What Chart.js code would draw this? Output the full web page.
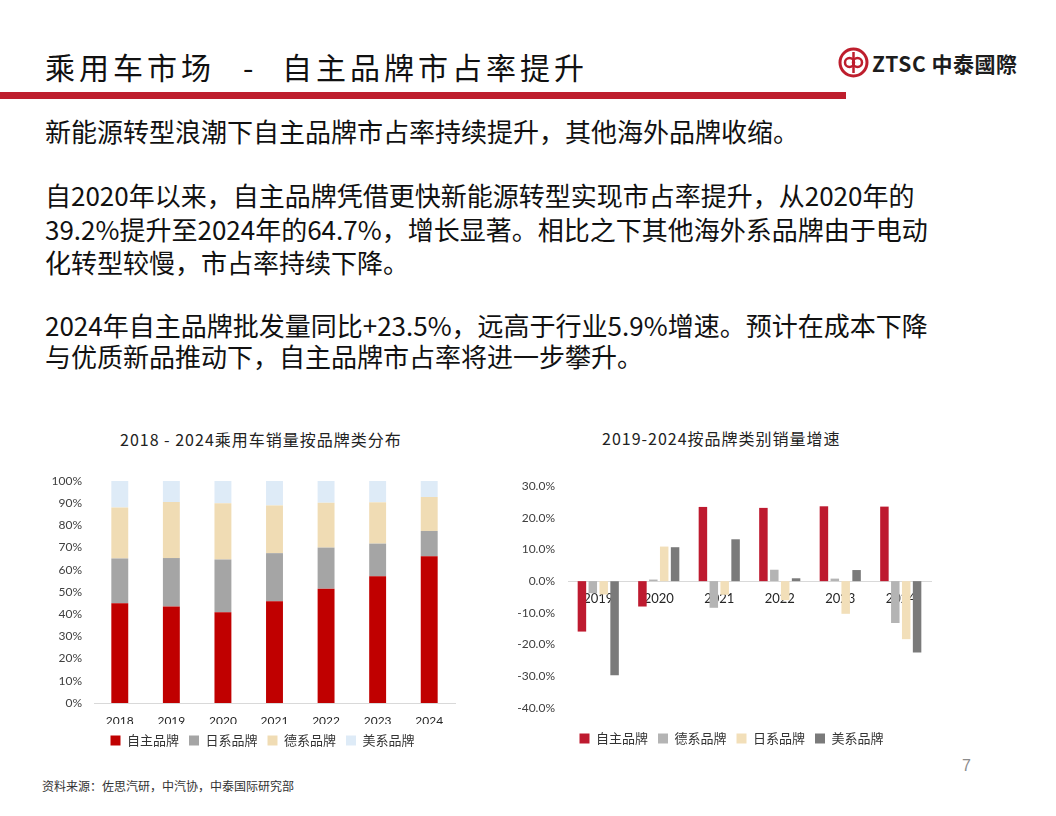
<!DOCTYPE html>
<html lang="zh">
<head>
<meta charset="utf-8">
<script src="https://cdn.jsdelivr.net/npm/chart.js@4.4.1/dist/chart.umd.min.js"></script>
<style>
  html, body { margin: 0; padding: 0; background: #fff; }
  body { width: 1056px; height: 816px; position: relative; overflow: hidden;
         font-family: "Noto Sans CJK SC", "Noto Sans", sans-serif; color: #111; }
  .abs { position: absolute; white-space: nowrap; }
  .title { font-size: 30px; letter-spacing: 4px; top: 46px; line-height: 40px; color: #111; }
  .redbar { position: absolute; left: 0; top: 92px; width: 846px; height: 7px; background: #BE1E2D; }
  .body-line { font-size: 26px; line-height: 34px; left: 45px; color: #111; }
  .chart-title { font-size: 16px; letter-spacing: 1px; line-height: 20px; color: #222; }
  .src { font-size: 12px; left: 42px; top: 777px; color: #333; }
  .pageno { font-size: 16px; left: 962px; top: 757px; color: #8c8c8c; font-family: "Liberation Sans", sans-serif; }
  .logo { left: 838px; top: 47px; display: flex; align-items: center; }
  .logo-text { font-family: "Noto Sans CJK TC", sans-serif; font-weight: 700; font-size: 21px; color: #1d1d1d; margin-left: 3px; letter-spacing: 0.5px; }
  canvas { position: absolute; }
</style>
</head>
<body>
<!-- header -->
<div class="abs title" style="left:45px">乘用车市场</div>
<div class="abs title" style="left:243px">-</div>
<div class="abs title" style="left:282px">自主品牌市占率提升</div>
<div class="abs logo">
  <svg width="31" height="31" viewBox="0 0 31 31">
    <circle cx="15.5" cy="15.5" r="13.5" fill="none" stroke="#BE1E2D" stroke-width="3"/>
    <circle cx="11.5" cy="15.5" r="4.5" fill="none" stroke="#BE1E2D" stroke-width="2.5"/>
    <circle cx="19.5" cy="15.5" r="4.5" fill="none" stroke="#BE1E2D" stroke-width="2.5"/>
    <line x1="15.5" y1="5" x2="15.5" y2="26" stroke="#BE1E2D" stroke-width="2.5"/>
  </svg>
  <span class="logo-text">ZTSC 中泰國際</span>
</div>
<div class="redbar"></div>

<!-- body text -->
<div class="abs body-line" style="top:114px">新能源转型浪潮下自主品牌市占率持续提升，其他海外品牌收缩。</div>
<div class="abs body-line" style="top:178px">自2020年以来，自主品牌凭借更快新能源转型实现市占率提升，从2020年的</div>
<div class="abs body-line" style="top:212px">39.2%提升至2024年的64.7%，增长显著。相比之下其他海外系品牌由于电动</div>
<div class="abs body-line" style="top:245px">化转型较慢，市占率持续下降。</div>
<div class="abs body-line" style="top:308px">2024年自主品牌批发量同比+23.5%，远高于行业5.9%增速。预计在成本下降</div>
<div class="abs body-line" style="top:339px">与优质新品推动下，自主品牌市占率将进一步攀升。</div>

<!-- charts -->
<div class="abs chart-title" style="left:120px;top:429px">2018 - 2024乘用车销量按品牌类分布</div>
<div class="abs chart-title" style="left:602px;top:428px">2019-2024按品牌类别销量增速</div>
<canvas id="shareChart" width="440" height="289" style="left:30px;top:468px;width:440px;height:289px"></canvas>
<canvas id="growthChart" width="460" height="282" style="left:490px;top:473px;width:460px;height:282px"></canvas>

<div class="abs src">资料来源：佐思汽研，中汽协，中泰国际研究部</div>
<div class="abs pageno">7</div>

<script>
// ========== data ==========
const shareYears = ["2018", "2019", "2020", "2021", "2022", "2023", "2024"];
const ownShare = [44.9, 43.5, 40.9, 45.8, 51.5, 57.1, 66.1];
const japanShare = [20.2, 21.8, 23.7, 21.7, 18.5, 14.7, 11.4];
const germanShare = [23.0, 25.2, 25.4, 21.5, 20.2, 18.6, 15.3];
const usShare = [11.9, 9.5, 10.0, 11.0, 9.8, 9.6, 7.2];

const growthYears = ["2019", "2020", "2021", "2022", "2023", "2024"];
const ownGrowth = [-15.9, -8.0, 23.4, 23.1, 23.6, 23.5];
const germanGrowth = [-3.8, 0.5, -8.4, 3.6, 0.8, -13.2];
const japanGrowth = [-4.2, 10.9, -4.3, -6.0, -10.3, -18.3];
const usGrowth = [-29.7, 10.7, 13.2, 0.9, 3.5, -22.5];

// ========== shared styles ==========
const FONT = "Lato, 'Noto Sans CJK SC', sans-serif";
const tickFont = { family: FONT, size: 12 };
const legendOpts = {
  position: "bottom",
  labels: {
    boxWidth: 10,
    boxHeight: 10,
    padding: 10,
    color: "#333",
    font: { family: "'Noto Sans CJK SC', sans-serif", size: 13 },
  },
};

// legend sits a bit right of the canvas centre in the original
const shiftLegend = (dx) => ({
  id: "shiftLegend",
  afterLayout(chart) {
    chart.legend.left += dx;
    chart.legend.right += dx;
  },
});

// ========== left: share by brand ==========
new Chart(document.getElementById("shareChart"), {
  type: "bar",
  data: {
    labels: shareYears,
    datasets: [
      { label: "自主品牌", data: ownShare, backgroundColor: "#C00000" },
      { label: "日系品牌", data: japanShare, backgroundColor: "#A5A5A5" },
      { label: "德系品牌", data: germanShare, backgroundColor: "#F0DCB4" },
      { label: "美系品牌", data: usShare, backgroundColor: "#DEEBF7" },
    ],
  },
  plugins: [shiftLegend(20)],
  options: {
    responsive: false,
    animation: false,
    layout: { padding: { top: 13, right: 15, left: 0, bottom: 0 } },
    datasets: { bar: { barPercentage: 0.8, categoryPercentage: 0.41, borderWidth: 0 } },
    plugins: { legend: legendOpts, tooltip: { enabled: false } },
    scales: {
      x: {
        stacked: true,
        grid: { display: false },
        border: { color: "#D9D9D9" },
        ticks: { color: "#262626", font: tickFont, padding: 3 },
        afterFit: (s) => { s.height = 21; },
      },
      y: {
        stacked: true,
        min: 0,
        max: 100,
        grid: { display: false },
        border: { display: false },
        ticks: { stepSize: 10, color: "#404040", font: tickFont, padding: 4, callback: (v) => v + "%" },
        afterFit: (s) => { s.width = 64; },
      },
    },
  },
});

// ========== right: growth by brand ==========
new Chart(document.getElementById("growthChart"), {
  type: "bar",
  data: {
    labels: growthYears,
    datasets: [
      { label: "自主品牌", data: ownGrowth, backgroundColor: "#BE1A2F" },
      { label: "德系品牌", data: germanGrowth, backgroundColor: "#B4B4B4" },
      { label: "日系品牌", data: japanGrowth, backgroundColor: "#F2DFB9" },
      { label: "美系品牌", data: usGrowth, backgroundColor: "#7A7A7A" },
    ],
  },
  plugins: [shiftLegend(21)],
  options: {
    responsive: false,
    animation: false,
    layout: { padding: { top: 13, right: 19, left: 0, bottom: 0 } },
    datasets: { bar: { barPercentage: 0.78, categoryPercentage: 0.72, borderWidth: 0 } },
    plugins: { legend: legendOpts, tooltip: { enabled: false } },
    scales: {
      x: {
        position: { y: 0 },
        z: 1,
        grid: { display: false },
        border: { color: "#D9D9D9" },
        ticks: { color: "#262626", font: { family: FONT, size: 13 }, padding: 2 },
      },
      // empty bottom axis, only keeps a gap above the legend
      xGap: {
        type: "category",
        axis: "x",
        position: "bottom",
        grid: { display: false },
        border: { display: false },
        ticks: { display: false },
        afterFit: (s) => { s.height = 14; },
      },
      y: {
        min: -40,
        max: 30,
        grid: { display: false },
        border: { display: false },
        ticks: { stepSize: 10, color: "#404040", font: tickFont, padding: 5, callback: (v) => v.toFixed(1) + "%" },
        afterFit: (s) => { s.width = 78; },
      },
    },
  },
});
</script>
</body>
</html>
